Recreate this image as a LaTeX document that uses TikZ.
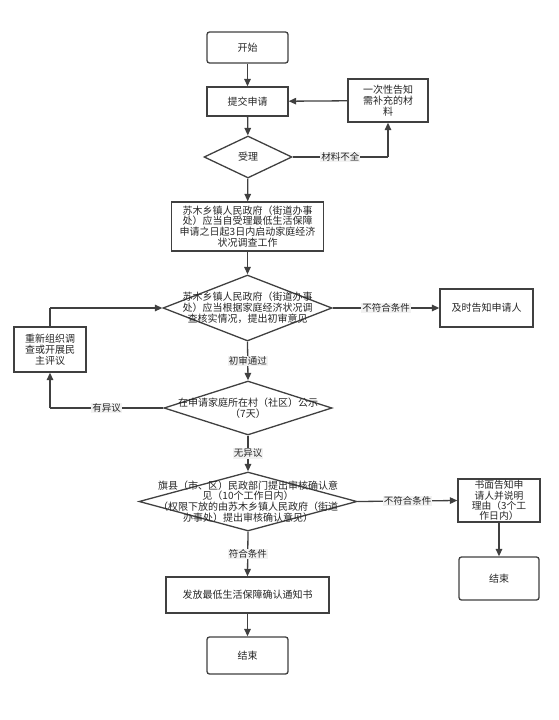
\documentclass[tikz,border=0pt]{standalone}
\usepackage{fontspec}
\setmainfont{Noto Sans CJK SC}
\usetikzlibrary{shapes.geometric,arrows.meta}
\begin{document}
\begin{tikzpicture}[x=1pt,y=-1pt,
  every node/.style={font=\fontsize{10}{10.8}\selectfont, text=black!85},
  box/.style={draw=black!75, line width=1.3pt, inner sep=0pt, align=center, fill=white},
  term/.style={box, rounded corners=2.5pt},
  dia/.style={diamond, draw=black!75, line width=1.3pt, inner sep=0pt, fill=white},
  txt/.style={align=center, inner sep=0pt},
  lab/.style={fill=gray!10, inner sep=1pt, font=\fontsize{9.5}{11}\selectfont},
  conn/.style={draw=black!75, line width=1.3pt, -{Triangle[length=7.5pt,width=6.5pt]}},
  line/.style={draw=black!75, line width=1.3pt}
]
\useasboundingbox (0,0) rectangle (558,720);

\node[term, minimum width=81, minimum height=31] (start) at (247.5,47.5) {开始};
\node[box, minimum width=81, minimum height=29] (submit) at (247.5,101.5) {提交申请};
\node[box, minimum width=80, minimum height=43] (notify) at (388,100.5) {一次性告知\\需补充的材\\料};
\node[dia, minimum width=88, minimum height=42] (d1) at (248,157) {};
\node[txt] at (d1) {受理};
\node[box, minimum width=152, minimum height=49] (inv) at (247.5,226.5)
  {苏木乡镇人民政府（街道办事\\处）应当自受理最低生活保障\\申请之日起3日内启动家庭经济\\状况调查工作};
\node[dia, minimum width=169, minimum height=66] (d2) at (247.5,308) {};
\node[txt] at (d2) {苏木乡镇人民政府（街道办事\\处）应当根据家庭经济状况调\\查核实情况，提出初审意见};
\node[box, minimum width=93, minimum height=38] (tell) at (486.5,308) {及时告知申请人};
\node[box, minimum width=72, minimum height=45] (reorg) at (50,349.5) {重新组织调\\查或开展民\\主评议};
\node[dia, minimum width=168, minimum height=54] (d3) at (248,408) {};
\node[txt] at (d3) {在申请家庭所在村（社区）公示\\（7天）};
\node[dia, minimum width=218, minimum height=59] (d4) at (248,501.5) {};
\node[txt] at (d4) {旗县（市、区）民政部门提出审核确认意\\见（10个工作日内）\\（权限下放的由苏木乡镇人民政府（街道\\办事处）提出审核确认意见）};
\node[box, minimum width=82, minimum height=43, font=\fontsize{9.8}{10.3}\selectfont] (written) at (499,500.5) {书面告知申\\请人并说明\\理由（3个工\\作日内）};
\node[term, minimum width=80, minimum height=43] (end2) at (499,578.5) {结束};
\node[box, minimum width=163, minimum height=36] (issue) at (247.5,595) {发放最低生活保障确认通知书};
\node[term, minimum width=81, minimum height=37] (end1) at (247.5,655.5) {结束};

\coordinate (c1) at (notify.south |- d1.east);
\coordinate (c2) at (reorg.north |- d2.west);
\coordinate (c3) at (reorg.south |- d3.west);

\draw[conn] (start) -- (submit);
\draw[conn] (submit) -- (d1);
\draw[conn] (notify) -- (submit);
\draw[line] (d1.east) -- node[lab]{材料不全} (c1);
\draw[conn] (c1) -- (notify.south);
\draw[conn] (d1) -- (inv);
\draw[conn] (inv) -- (d2);
\draw[conn] (d2.east) -- node[lab]{不符合条件} (tell.west);
\draw[conn] (d2.south) -- node[lab]{初审通过} (d3.north);
\draw[line] (d3.west) -- node[lab]{有异议} (c3);
\draw[conn] (c3) -- (reorg.south);
\draw[line] (reorg.north) -- (c2);
\draw[conn] (c2) -- (d2.west);
\draw[conn] (d3.south) -- node[lab]{无异议} (d4.north);
\draw[conn] (d4.east) -- node[lab]{不符合条件} (written.west);
\draw[conn] (written) -- (end2);
\draw[conn] (d4.south) -- node[lab]{符合条件} (issue.north);
\draw[conn] (issue) -- (end1);
\end{tikzpicture}
\end{document}
